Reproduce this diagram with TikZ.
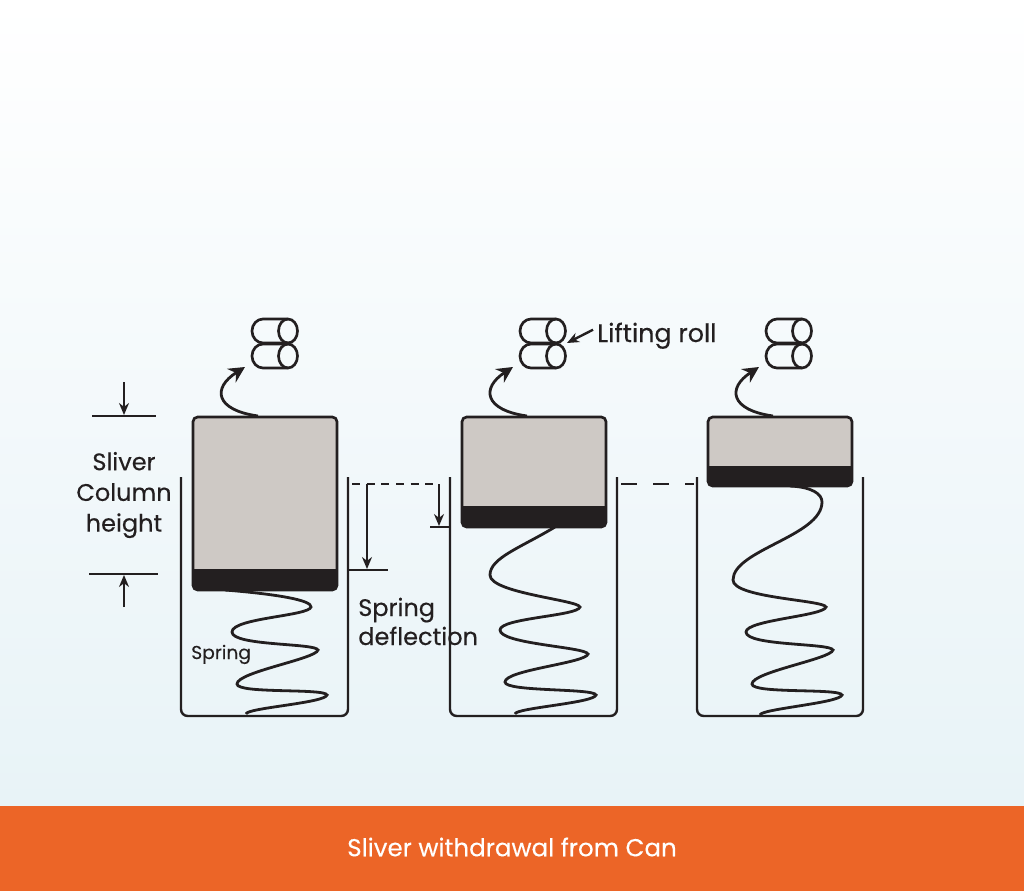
\documentclass[tikz,border=0pt]{standalone}
\usepackage{fontspec}
\setmainfont{Poppins}[FakeBold=0.25]
\usetikzlibrary{arrows.meta, positioning}
\definecolor{bandorange}{HTML}{EC6527}
\definecolor{sliverfill}{HTML}{CEC9C5}
\definecolor{sliverdark}{HTML}{231F20}
\definecolor{skyfade}{HTML}{E8F3F7}

% rolls at the top of each can, #1 is the left end, #2 the top
\newcommand{\rollpair}[2]{
	\draw[rollline] (#1+11,#2) -- (#1+36,#2) arc[start angle=-90, end angle=90, x radius=9.5, y radius=12] -- (#1+11,#2+24) arc[start angle=90, end angle=270, x radius=11, y radius=12] -- cycle;
	\draw[rollline] (#1+11,#2+25) -- (#1+36,#2+25) arc[start angle=-90, end angle=90, x radius=9.5, y radius=12] -- (#1+11,#2+49) arc[start angle=90, end angle=270, x radius=11, y radius=12] -- cycle;
	\draw[rollline] (#1+36,#2) arc[start angle=270, end angle=90, x radius=9.5, y radius=12];
	\draw[rollline] (#1+36,#2+25) arc[start angle=270, end angle=90, x radius=9.5, y radius=12];
}

\begin{document}
\begin{tikzpicture}[
		x=0.75pt, y=-0.75pt,
		>=Stealth,
		rollline/.style={line width=2pt, sliverdark},
		canwall/.style={line width=1.8pt, sliverdark, rounded corners=5},
		column/.style={draw=sliverdark, line width=2pt, fill=sliverfill, rounded corners=3.5pt, inner sep=0pt, outer sep=0pt, minimum width=108pt, anchor=north west},
		band/.style={fill=sliverdark},
		coil/.style={line width=2.1pt, sliverdark},
		dim/.style={line width=1.8pt, sliverdark},
		dimtip/.style={dim, -{Stealth[length=9pt, width=7.5pt]}},
		feed/.style={line width=2.1pt, sliverdark, -{Stealth[length=12pt, width=12pt]}},
		label/.style={font=\fontsize{18}{23}\selectfont, text=sliverdark, inner sep=0pt, align=center},
		]
		
		% Background and bottom band
		\shade[top color=white, bottom color=skyfade] (0,0) rectangle (1024,806);
		\fill[bandorange] (0,806) rectangle (1024,891);
		\node[font=\fontsize{18.4}{22}\selectfont, text=white, inner sep=0pt] (caption) at (512,847) {Sliver withdrawal from Can};
		\useasboundingbox (0,0) rectangle (1024,891);
		
		% Texts
		\node[label] (height) at (124,495) {Sliver\\Column\\height};
		\node[label, anchor=base west] (deflection) at (358,616) {Spring};
		\node[label, anchor=base west] (deflectionb) at (358,645) {deflection};
		\node[label, anchor=base west, font=\fontsize{14}{16}\selectfont] (spring) at (191,659) {Spring};
		\node[label, anchor=base west, font=\fontsize{19}{23}\selectfont] (lifting) at (597,342) {Lifting roll};
		
		% Cans
		\draw[canwall] (181,477) -- (181,716) -- (348,716) -- (348,477);
		\draw[canwall] (450,477) -- (450,716) -- (617,716) -- (617,477);
		\draw[canwall] (697,477) -- (697,716) -- (863,716) -- (863,477);
		
		% Sliver columns
		\node[column, minimum height=129.75pt] (boxA) at (193,417) {};
		\node[column, minimum height=82.5pt] (boxB) at (462,417) {};
		\node[column, minimum height=51.75pt] (boxC) at (708,417) {};
		
		% Dark bands
		\fill[band] (193,569) {[rounded corners=3.5pt] -- (193,590) -- (337,590) -- (337,580)} -- (337,569) -- cycle;
		\fill[band] (462,506) {[rounded corners=3.5pt] -- (462,527) -- (606,527) -- (606,518)} -- (606,506) -- cycle;
		\fill[band] (708,466) {[rounded corners=3.5pt] -- (708,486) -- (852,486) -- (852,478)} -- (852,466) -- cycle;
		
		% Springs
		\draw[coil] (225,590) .. controls (275,594) and (312,600) .. (311,607) .. controls +(-2,9) and +(0,-14) .. (232,632) .. controls +(0,14) and +(-2,-7) .. (318,650) .. controls +(-2,9) and +(0,-12) .. (237,684) .. controls +(0,10) and +(-2,-7) .. (327,695) .. controls +(-2,8) and +(0,-6) .. (246,714);
		\draw[coil] (555,527) .. controls (520,548) and (490,558) .. (490,575) .. controls +(0,18) and +(-2,-7) .. (580,607) .. controls +(-2,9) and +(0,-12) .. (500,630) .. controls +(0,14) and +(-2,-7) .. (588,654) .. controls +(-2,9) and +(0,-12) .. (505,682) .. controls +(0,10) and +(-2,-7) .. (596,695) .. controls +(-2,8) and +(0,-6) .. (515,714);
		\draw[coil] (790,486) .. controls (812,487) and (822,494) .. (822,502) .. controls +(0,34) and +(0,-30) .. (733,580) .. controls +(0,18) and +(-2,-7) .. (826,607) .. controls +(-2,9) and +(0,-12) .. (746,632) .. controls +(0,14) and +(-2,-7) .. (833,650) .. controls +(-2,9) and +(0,-12) .. (752,684) .. controls +(0,10) and +(-2,-7) .. (842,695) .. controls +(-2,8) and +(0,-6) .. (760,715);
		
		% Rolls
		\rollpair{252}{319}
		\rollpair{520}{319}
		\rollpair{766}{319}
		
		% Sliver going up to the rolls
		\coordinate (feedA) at (245,367);
		\coordinate (feedB) at (513,367);
		\coordinate (feedC) at (759,367);
		\draw[feed] (258,416) .. controls (215,410) and (212,388) .. (feedA);
		\draw[feed] (527,416) .. controls (484,410) and (481,388) .. (feedB);
		\draw[feed] (773,416) .. controls (730,410) and (727,388) .. (feedC);
		
		% Column height marks
		\coordinate (topmark) at (124,382);
		\coordinate (lowmark) at (124,607);
		\draw[dim] (92,416) -- (156,416);
		\draw[dim] (89,574) -- (158,574);
		\draw[dimtip] (topmark) -- (124,415);
		\draw[dimtip] (lowmark) -- (124,575);
		
		% Spring deflection marks
		\draw[dim, dash pattern=on 6pt off 5pt] (352,484) -- (438,484);
		\draw[dim, dash pattern=on 12pt off 12pt] (621,484) -- (694,484);
		\draw[dimtip] (367,484) -- (367,569);
		\draw[dim] (348,570) -- (388,570);
		\draw[dimtip] (439,484) -- (439,526);
		\draw[dim] (430,527) -- (450,527);
		
		% Lifting roll pointer
		\draw[dimtip] (lifting.west) ++(-4,-6) -- (567,343);
		
	\end{tikzpicture}
\end{document}
